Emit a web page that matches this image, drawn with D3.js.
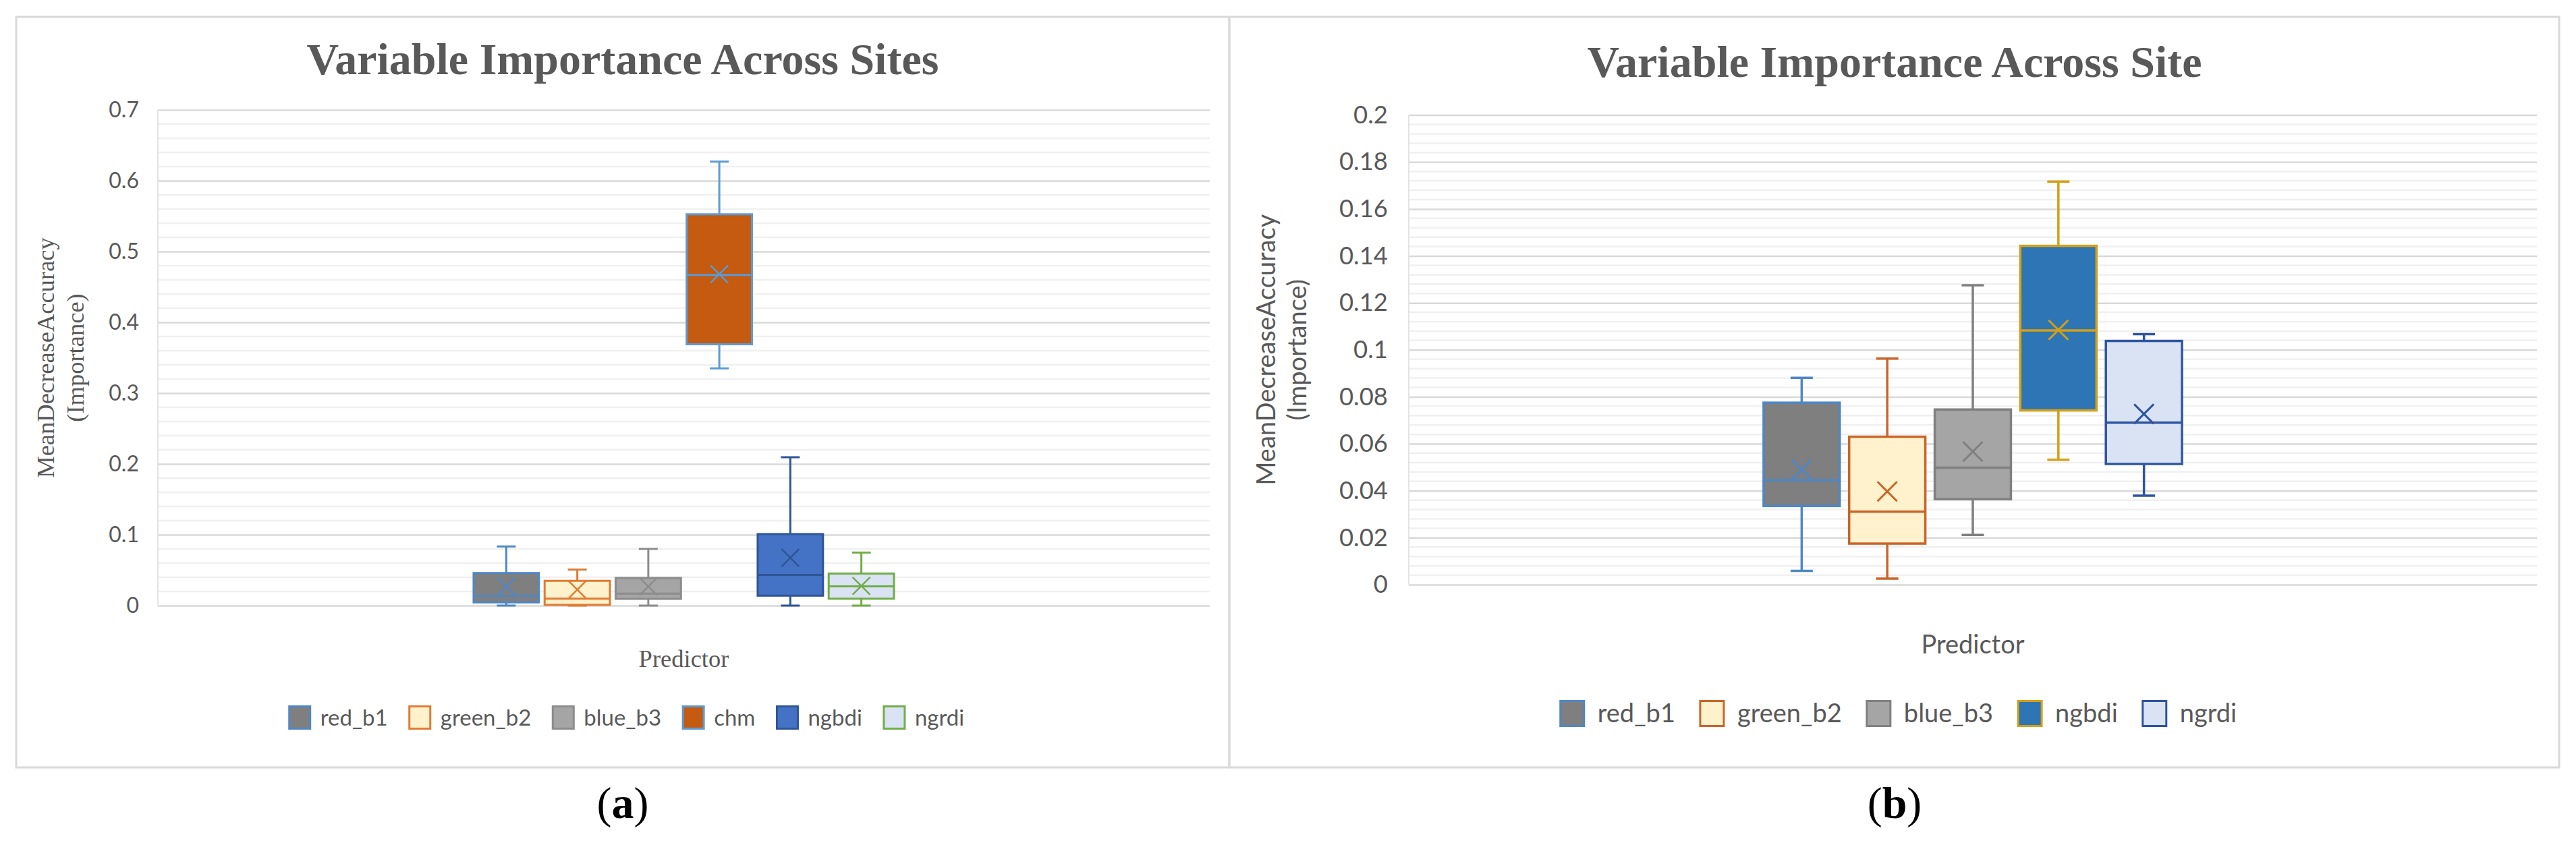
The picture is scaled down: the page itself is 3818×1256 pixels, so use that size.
<!DOCTYPE html>
<html>
<head>
<meta charset="utf-8">
<script src="https://cdn.jsdelivr.net/npm/d3@7"></script>
<style>
  body { margin: 0; background: #fff; }
  svg { display: block; }
</style>
</head>
<body>
<script>
// ---- data, panel (a) ----
const categories = ["Predictor"];

const seriesA  = ["red_b1", "green_b2", "blue_b3", "chm", "ngbdi", "ngrdi"];
const minA     = [0, 0, 0, 0.335, 0, 0];
const q1A      = [0.0045, 0.001, 0.0095, 0.369, 0.014, 0.0097];
const medianA  = [0.0137, 0.0097, 0.0169, 0.467, 0.0433, 0.0271];
const q3A      = [0.046, 0.035, 0.039, 0.5526, 0.101, 0.0452];
const maxA     = [0.0835, 0.0508, 0.080, 0.627, 0.2095, 0.0749];
const meanA    = [0.0268, 0.0225, 0.027, 0.468, 0.0674, 0.0277];
const ticksA      = [0, 0.1, 0.2, 0.3, 0.4, 0.5, 0.6, 0.7];
const tickLabelsA = ["0", "0.1", "0.2", "0.3", "0.4", "0.5", "0.6", "0.7"];

// ---- data, panel (b) ----
const seriesB  = ["red_b1", "green_b2", "blue_b3", "ngbdi", "ngrdi"];
const minB     = [0.0059, 0.0026, 0.0212, 0.0532, 0.0379];
const q1B      = [0.0335, 0.0175, 0.0364, 0.0742, 0.0514];
const medianB  = [0.0445, 0.0311, 0.0498, 0.1083, 0.069];
const q3B      = [0.0775, 0.063, 0.0746, 0.1443, 0.1038];
const maxB     = [0.0881, 0.0963, 0.1275, 0.1717, 0.1067];
const meanB    = [0.049, 0.0397, 0.0567, 0.1085, 0.0727];
const ticksB      = [0, 0.02, 0.04, 0.06, 0.08, 0.1, 0.12, 0.14, 0.16, 0.18, 0.2];
const tickLabelsB = ["0", "0.02", "0.04", "0.06", "0.08", "0.1", "0.12", "0.14", "0.16", "0.18", "0.2"];

// colours
const fillA   = ["#7f7f7f", "#fff2cc", "#a5a5a5", "#c55a11", "#4472c4", "#dae3f3"];
const strokeA = ["#4f87c5", "#e07b33", "#8c8c8c", "#5b9bd5", "#2f5597", "#70ad47"];
const fillB   = ["#7f7f7f", "#fff2cc", "#a5a5a5", "#2e75b6", "#dae3f3"];
const strokeB = ["#4f87c5", "#c9652a", "#808080", "#d4a017", "#2f55a0"];

const W = 3818, H = 1256;
const grey = "#595959";
const serif = "'Liberation Serif', 'Times New Roman', serif";
const sans = "Lato, 'Liberation Sans', sans-serif";

const svg = d3.select("body").append("svg")
  .attr("width", W)
  .attr("height", H);

// panel frames
svg.append("rect")
  .attr("x", 24).attr("y", 25).attr("width", 1822 - 24).attr("height", 1138 - 25)
  .attr("fill", "none").attr("stroke", "#d9d9d9").attr("stroke-width", 3);
svg.append("rect")
  .attr("x", 1822).attr("y", 25).attr("width", 3793 - 1822).attr("height", 1138 - 25)
  .attr("fill", "none").attr("stroke", "#d9d9d9").attr("stroke-width", 3);

function drawPanel(p) {
  const g = svg.append("g");
  const y = d3.scaleLinear()
    .domain([0, p.ticks[p.ticks.length - 1]])
    .range([p.bottom, p.top]);
  const x0 = d3.scaleBand().domain(categories).range([p.left, p.right]).paddingOuter(p.outerPad);
  const x1 = d3.scaleBand().domain(p.series).range([0, x0.bandwidth()]).paddingInner(p.innerPad);

  // minor gridlines (4 between each pair of major ticks)
  const minorStep = (p.ticks[1] - p.ticks[0]) / 5;
  const minor = d3.range(p.ticks.length - 1)
    .flatMap(i => [1, 2, 3, 4].map(k => p.ticks[i] + k * minorStep));
  g.selectAll(".minor").data(minor).join("line")
    .attr("class", "minor")
    .attr("x1", p.left).attr("x2", p.right)
    .attr("y1", d => y(d)).attr("y2", d => y(d))
    .attr("stroke", "#f0f0f0").attr("stroke-width", 2.5);

  // major gridlines and tick labels
  g.append("g")
    .attr("transform", `translate(${p.left},0)`)
    .call(d3.axisLeft(y)
      .tickValues(p.ticks)
      .tickSize(-(p.right - p.left))
      .tickPadding(p.tickPad)
      .tickFormat((d, i) => p.tickLabels[i]))
    .attr("font-size", null).attr("font-family", null)
    .call(a => a.select(".domain").remove())
    .call(a => a.selectAll(".tick line").attr("stroke", "#d9d9d9").attr("stroke-width", 2.5))
    .call(a => a.selectAll(".tick text")
      .attr("fill", grey)
      .style("font-family", sans)
      .style("font-size", p.tickSize + "px"));

  g.append("line")
    .attr("x1", p.left).attr("x2", p.left)
    .attr("y1", p.top).attr("y2", p.bottom)
    .attr("stroke", "#e3e3e3").attr("stroke-width", 2);

  // boxes
  const rows = p.series.map((s, i) => ({
    s, i,
    min: p.min[i], q1: p.q1[i], med: p.median[i], q3: p.q3[i], max: p.max[i], mean: p.mean[i],
    cx: x0(categories[0]) + x1(s) + x1.bandwidth() / 2
  }));
  const bw = x1.bandwidth();
  const box = g.selectAll(".box").data(rows).join("g").attr("class", "box");

  box.append("line")
    .attr("x1", d => d.cx).attr("x2", d => d.cx)
    .attr("y1", d => y(d.max)).attr("y2", d => y(d.q3))
    .attr("stroke", d => p.stroke[d.i]).attr("stroke-width", p.lw);
  box.append("line")
    .attr("x1", d => d.cx).attr("x2", d => d.cx)
    .attr("y1", d => y(d.q1)).attr("y2", d => y(d.min))
    .attr("stroke", d => p.stroke[d.i]).attr("stroke-width", p.lw);
  [d => d.max, d => d.min].forEach(f => {
    box.append("line")
      .attr("x1", d => d.cx - p.capW / 2).attr("x2", d => d.cx + p.capW / 2)
      .attr("y1", d => y(f(d))).attr("y2", d => y(f(d)))
      .attr("stroke", d => p.stroke[d.i]).attr("stroke-width", p.lw);
  });
  box.append("rect")
    .attr("x", d => d.cx - bw / 2).attr("width", bw)
    .attr("y", d => y(d.q3)).attr("height", d => y(d.q1) - y(d.q3))
    .attr("fill", d => p.fill[d.i])
    .attr("stroke", d => p.stroke[d.i]).attr("stroke-width", p.lw);
  box.append("line")
    .attr("x1", d => d.cx - bw / 2).attr("x2", d => d.cx + bw / 2)
    .attr("y1", d => y(d.med)).attr("y2", d => y(d.med))
    .attr("stroke", d => p.stroke[d.i]).attr("stroke-width", p.lw);
  // mean marker (x)
  const m = p.markW / 2;
  [[-1, -1, 1, 1], [-1, 1, 1, -1]].forEach(([a, b, c, e]) => {
    box.append("line")
      .attr("x1", d => d.cx + a * m).attr("y1", d => y(d.mean) + b * m)
      .attr("x2", d => d.cx + c * m).attr("y2", d => y(d.mean) + e * m)
      .attr("stroke", d => p.stroke[d.i]).attr("stroke-width", p.lw - 0.5);
  });

  // title
  g.append("text")
    .attr("x", p.cx).attr("y", p.titleY)
    .attr("text-anchor", "middle")
    .attr("fill", grey)
    .style("font-family", serif).style("font-weight", "bold").style("font-size", "66px")
    .text(p.title);

  // y axis title
  const yt = g.append("text")
    .attr("transform", `translate(${p.yTitleX},${(p.top + p.bottom) / 2}) rotate(-90)`)
    .attr("text-anchor", "middle")
    .attr("fill", grey)
    .style("font-family", p.axisFont).style("font-size", p.axisSize + "px");
  yt.append("tspan").attr("x", 0).attr("dy", "0").text("MeanDecreaseAccuracy");
  yt.append("tspan").attr("x", 0).attr("dy", "1.2em").text("(Importance)");

  // x axis title
  g.append("text")
    .attr("x", (p.left + p.right) / 2).attr("y", p.xTitleY)
    .attr("text-anchor", "middle")
    .attr("fill", grey)
    .style("font-family", p.axisFont).style("font-size", p.axisSize + "px")
    .text(categories[0]);

  // legend
  const leg = g.append("g");
  const items = leg.selectAll(".item").data(rows).join("g").attr("class", "item");
  items.append("rect")
    .attr("width", p.sw).attr("height", p.sw + 2)
    .attr("y", -p.sw / 2 - 1)
    .attr("fill", d => p.fill[d.i])
    .attr("stroke", d => p.stroke[d.i]).attr("stroke-width", 3);
  items.append("text")
    .attr("x", p.sw + p.swGap).attr("dy", "0.35em")
    .attr("fill", grey)
    .style("font-family", sans).style("font-size", p.legSize + "px")
    .text(d => d.s);
  let xpos = 0;
  items.each(function () {
    const it = d3.select(this);
    it.attr("transform", `translate(${xpos},0)`);
    xpos += p.sw + p.swGap + it.select("text").node().getComputedTextLength() + p.itemGap;
  });
  xpos -= p.itemGap;
  leg.attr("transform", `translate(${p.legCx - xpos / 2},${p.legY})`);

  // sub-figure label
  const lab = svg.append("text")
    .attr("x", p.cx).attr("y", 1213)
    .attr("text-anchor", "middle")
    .attr("fill", "#000")
    .style("font-family", serif).style("font-size", "66px");
  lab.append("tspan").text("(");
  lab.append("tspan").style("font-weight", "bold").text(p.letter);
  lab.append("tspan").text(")");
}

drawPanel({
  series: seriesA, min: minA, q1: q1A, median: medianA, q3: q3A, max: maxA, mean: meanA,
  ticks: ticksA, tickLabels: tickLabelsA, fill: fillA, stroke: strokeA,
  left: 234, right: 1793, top: 163, bottom: 898,
  outerPad: 0.751, innerPad: 0.08, lw: 3, capW: 28, markW: 26,
  tickPad: 28, tickSize: 32,
  title: "Variable Importance Across Sites", titleY: 110, cx: 923,
  axisFont: serif, axisSize: 36.5, yTitleX: 80, xTitleY: 989,
  sw: 31, swGap: 15, itemGap: 32, legSize: 33, legCx: 929, legY: 1064,
  letter: "a"
});

drawPanel({
  series: seriesB, min: minB, q1: q1B, median: medianB, q3: q3B, max: maxB, mean: meanB,
  ticks: ticksB, tickLabels: tickLabelsB, fill: fillB, stroke: strokeB,
  left: 2088, right: 3760, top: 170.6, bottom: 867,
  outerPad: 0.848, innerPad: 0.11, lw: 3.5, capW: 33, markW: 29,
  tickPad: 31, tickSize: 36.5,
  title: "Variable Importance Across Site", titleY: 114, cx: 2808,
  axisFont: sans, axisSize: 38, yTitleX: 1890, xTitleY: 969,
  sw: 35, swGap: 20, itemGap: 37, legSize: 38, legCx: 2814, legY: 1058,
  letter: "b"
});
</script>
</body>
</html>
